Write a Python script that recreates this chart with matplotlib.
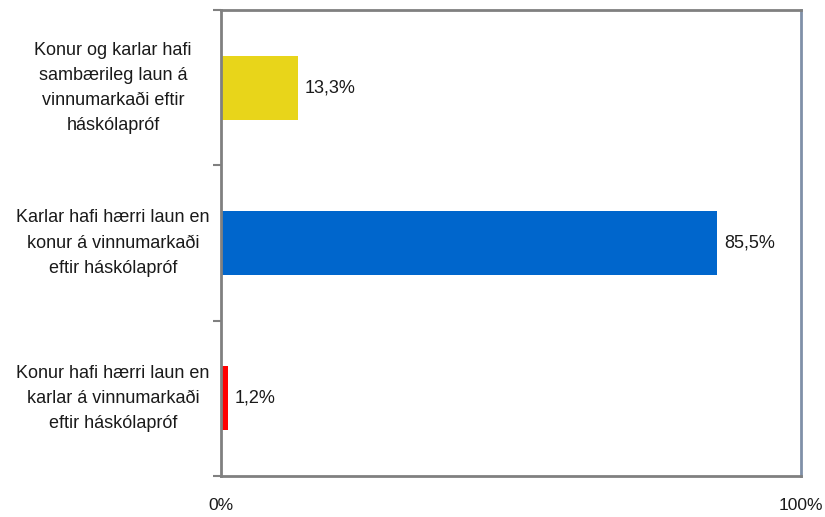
import matplotlib
matplotlib.use("Agg")
import matplotlib.pyplot as plt

# categories bottom -> top
categories = [
    "Konur hafi hærri laun en\nkarlar á vinnumarkaði\neftir háskólapróf",
    "Karlar hafi hærri laun en\nkonur á vinnumarkaði\neftir háskólapróf",
    "Konur og karlar hafi\nsambærileg laun á\nvinnumarkaði eftir\nháskólapróf",
]
values = [1.2, 85.5, 13.3]
colors = ["#FF0000", "#0066CC", "#E8D51A"]

plt.rcParams["font.family"] = ["Liberation Sans Narrow", "Liberation Sans", "DejaVu Sans"]

fig = plt.figure(figsize=(8.25, 5.17), dpi=100)
ax = fig.add_axes([221 / 825, 1 - 476 / 517, 580 / 825, 466 / 517])

ypos = range(len(values))
ax.barh(ypos, values, height=0.41, color=colors)
for y, v in zip(ypos, values):
    ax.text(v + 1.2, y, f"{v:.1f}%".replace(".", ","), va="center", ha="left",
            fontsize=13, color="#1a1a1a")

ax.set_xlim(0, 100)
ax.set_ylim(-0.5, len(values) - 0.5)
ax.set_xticks([0, 100])
ax.set_xticklabels(["0%", "100%"], fontsize=12.5, color="#1a1a1a")
ax.tick_params(axis="x", length=0, pad=16)

# ticks on category boundaries
ax.set_yticks([-0.5, 0.5, 1.5, 2.5])
ax.set_yticklabels([])
ax.tick_params(axis="y", length=6, width=1.5, color="#808080")
for y, lab in zip(ypos, categories):
    ax.text(-(221 - 113) / 580, y, lab, transform=ax.get_yaxis_transform(),
            ha="center", va="center", fontsize=13, linespacing=1.62,
            color="#1a1a1a", multialignment="center")

ax.spines["left"].set_color("#808080")
ax.spines["bottom"].set_color("#808080")
ax.spines["top"].set_color("#808080")
ax.spines["right"].set_color("#8090A8")
for s in ax.spines.values():
    s.set_linewidth(2)

fig.savefig("out.png", dpi=100)
